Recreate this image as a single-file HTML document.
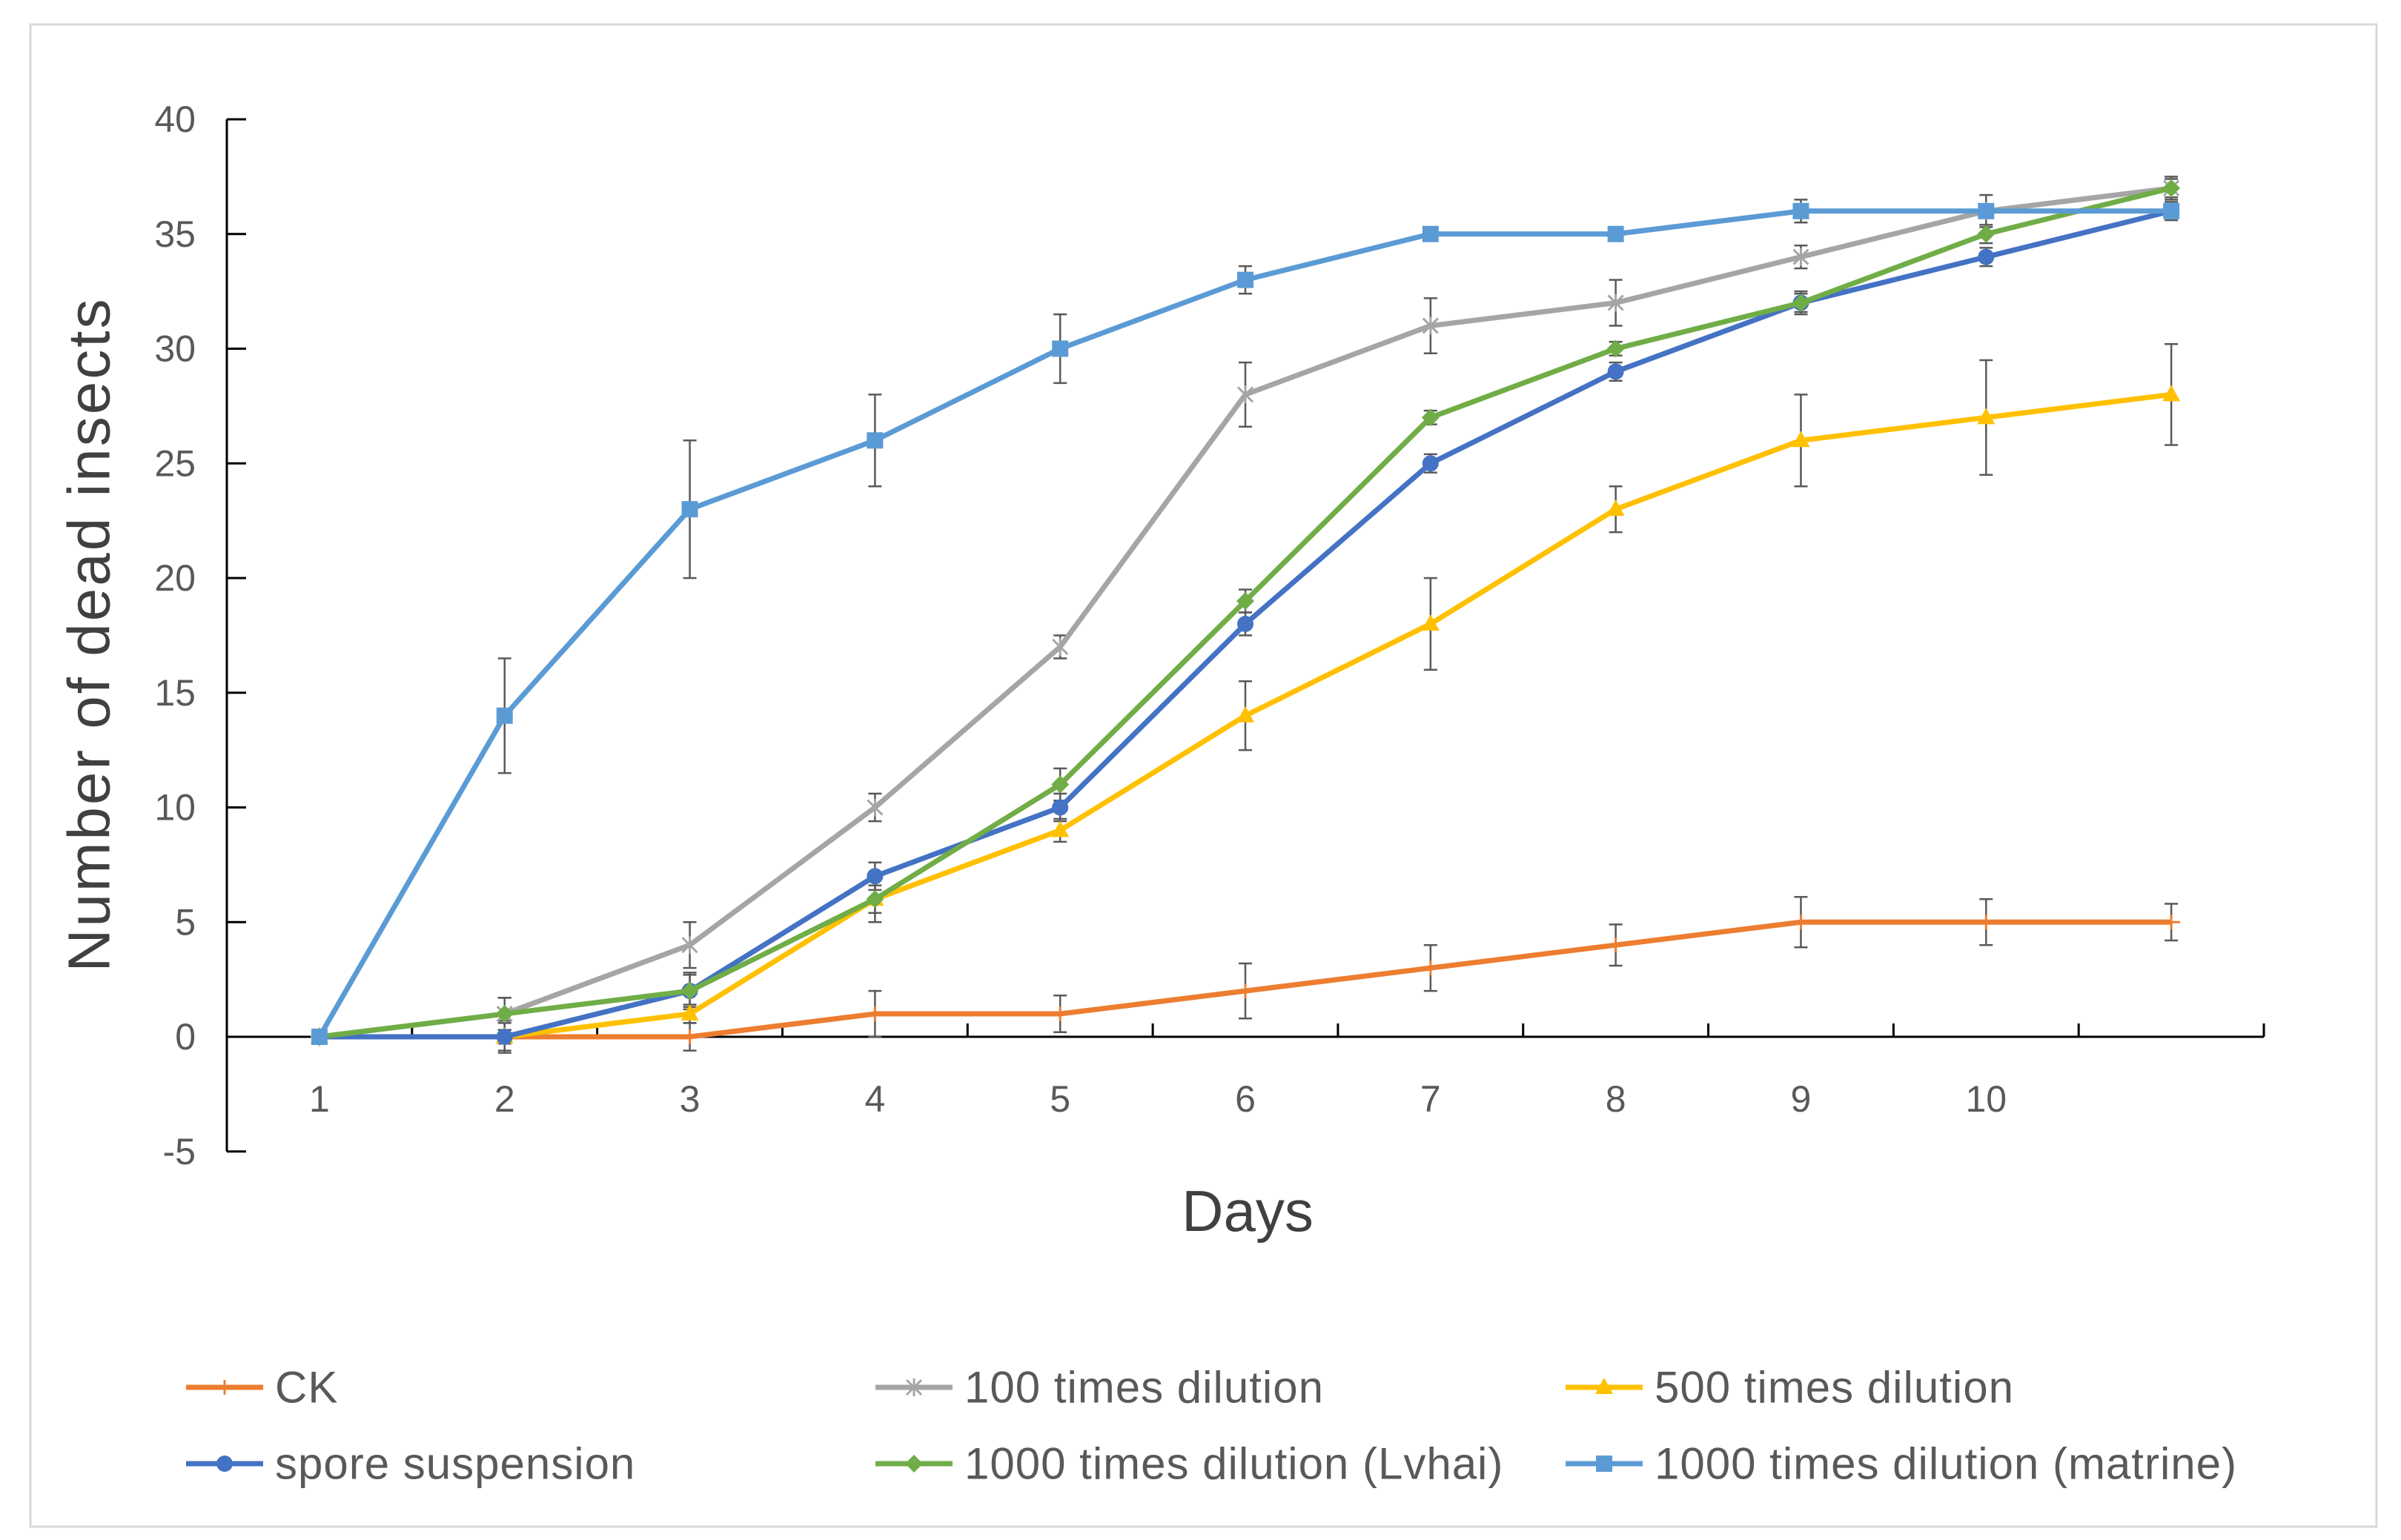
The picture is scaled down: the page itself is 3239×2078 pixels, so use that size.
<!DOCTYPE html>
<html><head><meta charset="utf-8"><style>
html,body{margin:0;padding:0;background:#fff;}
svg{display:block;font-family:"Liberation Sans",sans-serif;}
</style></head><body>
<svg id="chart" width="3239" height="2078" viewBox="0 0 3239 2078">
<rect x="41" y="33" width="3165" height="2027" fill="#fff" stroke="#d9d9d9" stroke-width="3"/>
<g id="axes"></g>
<g id="errs"></g>
<g id="series"></g>
<text x="120" y="856" transform="rotate(-90 120 856)" text-anchor="middle" dominant-baseline="central" font-size="80" letter-spacing="3" fill="#404040">Number of dead insects</text>
<text x="1683" y="1634" text-anchor="middle" dominant-baseline="central" font-size="78" fill="#404040">Days</text>
<g id="legend"></g>
</svg>
<script>
const days = [1,2,3,4,5,6,7,8,9,10,11];
const xLabels = ["1","2","3","4","5","6","7","8","9","10",""];
const yTicks = [-5,0,5,10,15,20,25,30,35,40];
const seriesNames = ["CK","100 times dilution","500 times dilution","spore suspension","1000 times dilution (Lvhai)","1000 times dilution (matrine)"];
const ckVals = [0,0,0,1,1,2,3,4,5,5,5];
const d100Vals = [0,1,4,10,17,28,31,32,34,36,37];
const d500Vals = [0,0,1,6,9,14,18,23,26,27,28];
const sporeVals = [0,0,2,7,10,18,25,29,32,34,36];
const lvhaiVals = [0,1,2,6,11,19,27,30,32,35,37];
const matrineVals = [0,14,23,26,30,33,35,35,36,36,36];
const ckErr = [0,0.6,0.6,1,0.8,1.2,1,0.9,1.1,1,0.8];
const d100Err = [0,0.7,1,0.6,0.5,1.4,1.2,1,0.5,0.7,0.5];
const d500Err = [0,0.3,0.4,1,0.5,1.5,2,1,2,2.5,2.2];
const sporeErr = [0,0.7,0.7,0.6,0.6,0.5,0.4,0.4,0.5,0.4,0.4];
const lvhaiErr = [0,0.7,0.8,0.6,0.7,0.5,0.3,0.3,0.4,0.4,0.4];
const matrineErr = [0,2.5,3,2,1.5,0.6,0,0,0.5,0.3,0.3];

const NS="http://www.w3.org/2000/svg";
const X0=306, X1=3054, nCat=11, catW=(X1-X0)/nCat;
const Y0=1399, PPU=30.95;
function xS(d){return X0+catW*(d-0.5);}
function yS(v){return Y0-v*PPU;}
function mk(tag,attrs,parent){const e=document.createElementNS(NS,tag);for(const k in attrs)e.setAttribute(k,attrs[k]);parent.appendChild(e);return e;}

const axes=document.getElementById('axes');
let yl=mk('line',{x1:X0,y1:yS(40),x2:X0,y2:yS(-5),stroke:'#000','stroke-width':3},axes);


yTicks.forEach(t=>{
  let tk=mk('line',{x1:X0,y1:yS(t),x2:X0+26,y2:yS(t),stroke:'#000','stroke-width':3},axes);
  
  
  let tl=mk('text',{x:264,y:yS(t),'text-anchor':'end','dominant-baseline':'central','font-size':50,fill:'#595959'},axes);
  tl.textContent=t;
  
  
});
let xl=mk('line',{x1:X0,y1:Y0,x2:X1,y2:Y0,stroke:'#000','stroke-width':3},axes);


for(let k=1;k<=nCat;k++){
  let tk=mk('line',{x1:X0+k*catW,y1:Y0,x2:X0+k*catW,y2:Y0-18,stroke:'#000','stroke-width':3},axes);
  
  
}
days.forEach((d,i)=>{
  let tl=mk('text',{x:xS(d),y:1483,'text-anchor':'middle','dominant-baseline':'central','font-size':50,fill:'#595959'},axes);
  tl.textContent=xLabels[i];
  
  
});

const colors=['#ED7D31','#A5A5A5','#FFC000','#4472C4','#70AD47','#5B9BD5'];
const markers=['plus','x','tri','circle','diamond','square'];
const allVals=[ckVals,d100Vals,d500Vals,sporeVals,lvhaiVals,matrineVals];
const allErr=[ckErr,d100Err,d500Err,sporeErr,lvhaiErr,matrineErr];
const keys=['ck','100x','500x','spore','lvhai','matrine'];

function marker(type,cx,cy,col,parent){
  let e;
  if(type==='square') e=mk('rect',{x:cx-11,y:cy-11,width:22,height:22,fill:col},parent);
  else if(type==='circle') e=mk('circle',{cx:cx,cy:cy,r:11,fill:col},parent);
  else if(type==='diamond') e=mk('polygon',{points:`${cx},${cy-12} ${cx+12},${cy} ${cx},${cy+12} ${cx-12},${cy}`,fill:col},parent);
  else if(type==='tri') e=mk('polygon',{points:`${cx},${cy-13} ${cx+12},${cy+9} ${cx-12},${cy+9}`,fill:col},parent);
  else if(type==='x') e=mk('path',{d:`M${cx-10},${cy-10}L${cx+10},${cy+10}M${cx+10},${cy-10}L${cx-10},${cy+10}M${cx},${cy-12}L${cx},${cy+12}`,stroke:col,'stroke-width':3,fill:'none'},parent);
  else e=mk('path',{d:`M${cx-12},${cy}L${cx+12},${cy}M${cx},${cy-10}L${cx},${cy+10}`,stroke:col,'stroke-width':3,fill:'none'},parent);
  return e;
}

const errs=document.getElementById('errs'), ser=document.getElementById('series');
allVals.forEach((vals,s)=>{
  const errArr=allErr[s];
  days.forEach((d,i)=>{
    if(errArr[i]<=0) return;
    const x=xS(d), yt=yS(vals[i]+errArr[i]), yb=yS(vals[i]-errArr[i]);
    let p=mk('path',{d:`M${x},${yt}L${x},${yb}M${x-9},${yt}L${x+9},${yt}M${x-9},${yb}L${x+9},${yb}`,stroke:'#595959','stroke-width':2.5,fill:'none'},errs);
    
    
  });
});
allVals.forEach((vals,s)=>{
  const g=mk('g',{},ser);
  
  
  const pts=days.map((d,i)=>xS(d)+','+yS(vals[i])).join(' ');
  let pl=mk('polyline',{points:pts,fill:'none',stroke:colors[s],'stroke-width':7,'stroke-linejoin':'round'},g);
  
  
  days.forEach((d,i)=>{
    let m=marker(markers[s],xS(d),yS(vals[i]),colors[s],g);
    
    
  });
});

const leg=document.getElementById('legend');
const legX=[251,1181,2112], legY=[1872,1975];
seriesNames.forEach((n,s)=>{
  const lx=legX[s%3], ly=legY[Math.floor(s/3)];
  const g=mk('g',{},leg);
  
  
  mk('line',{x1:lx,y1:ly,x2:lx+104,y2:ly,stroke:colors[s],'stroke-width':7},g);
  marker(markers[s],lx+52,ly,colors[s],g);
  const t=mk('text',{x:lx+120,y:ly,'dominant-baseline':'central','font-size':60,'letter-spacing':1,fill:'#595959'},g);
  t.textContent=n;
});
</script>
</body></html>
